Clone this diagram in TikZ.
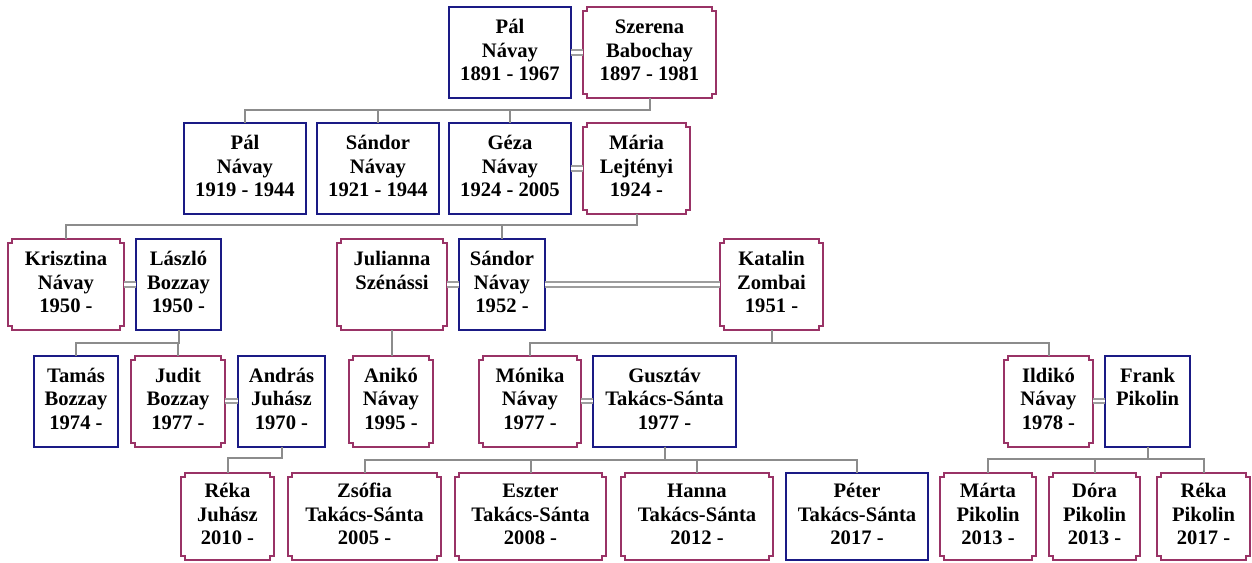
\documentclass[tikz,border=0pt]{standalone}
\usepackage{fontspec}
\setmainfont{Liberation Serif}
\usetikzlibrary{calc}

\definecolor{maleblue}{HTML}{1A1A85}
\definecolor{femrose}{HTML}{993366}
\definecolor{linkgray}{HTML}{8C8C8C}

\newcommand\personfont{\bfseries\fontsize{20.6}{23.5}\selectfont}
% three text lines of equal height (the last may stay empty)
\newcommand\who[3]{\strut#1\\\strut#2\\\strut#3}
% frame with small inward notches at the corners, drawn round a named node
\newcommand\femframe[1]{%
  \draw[femline] ([yshift=-4pt]#1.north west) -| ([xshift=4pt]#1.north west)
    -- ([xshift=-4pt]#1.north east) |- ([yshift=-4pt]#1.north east)
    -- ([yshift=4pt]#1.south east) -| ([xshift=-4pt]#1.south east)
    -- ([xshift=4pt]#1.south west) |- ([yshift=4pt]#1.south west) -- cycle;}

\tikzset{
  person/.style={minimum height=91pt, inner sep=0pt, outer sep=0pt,
                 align=center, font=\personfont, text=black},
  male/.style={person, draw=maleblue, line width=2pt},
  female/.style={person},
  femline/.style={draw=femrose, line width=2pt},
  link/.style={draw=linkgray, line width=2pt},
  wed/.style={draw=linkgray!85, line width=2pt, double=white, double distance=2.2pt},
}

\begin{document}
\begin{tikzpicture}[x=1pt, y=-1pt]
\fill[white] (0,0) rectangle (1252,562);
\useasboundingbox (0,0) rectangle (1252,562);

% generation 1
\node[male,   minimum width=122pt] (palA)    at (510,52.5)   {\who{Pál}{Návay}{1891 - 1967}};
\node[female, minimum width=133pt] (szerena) at (649.5,52.5) {\who{Szerena}{Babochay}{1897 - 1981}};

% generation 2
\node[male,   minimum width=122pt] (palB)    at (245,168.5)   {\who{Pál}{Návay}{1919 - 1944}};
\node[male,   minimum width=122pt] (sandorA) at (378,168.5)   {\who{Sándor}{Návay}{1921 - 1944}};
\node[male,   minimum width=122pt] (geza)    at (510,168.5)   {\who{Géza}{Návay}{1924 - 2005}};
\node[female, minimum width=107pt] (maria)   at (636.5,168.5) {\who{Mária}{Lejtényi}{1924 -}};

% generation 3
\node[female, minimum width=116pt] (krisztina) at (66,284.5)    {\who{Krisztina}{Návay}{1950 -}};
\node[male,   minimum width=85pt]  (laszlo)    at (178.5,284.5) {\who{László}{Bozzay}{1950 -}};
\node[female, minimum width=110pt] (julianna)  at (392,284.5)   {\who{Julianna}{Szénássi}{}};
\node[male,   minimum width=86pt]  (sandorB)   at (502,284.5)   {\who{Sándor}{Návay}{1952 -}};
\node[female, minimum width=103pt] (katalin)   at (771.5,284.5) {\who{Katalin}{Zombai}{1951 -}};

% generation 4
\node[male,   minimum width=84pt]  (tamas)   at (76,401)     {\who{Tamás}{Bozzay}{1974 -}};
\node[female, minimum width=94pt]  (judit)   at (178,401)    {\who{Judit}{Bozzay}{1977 -}};
\node[male,   minimum width=87pt]  (andras)  at (281.5,401)  {\who{András}{Juhász}{1970 -}};
\node[female, minimum width=84pt]  (aniko)   at (391,401)    {\who{Anikó}{Návay}{1995 -}};
\node[female, minimum width=102pt] (monika)  at (530,401)    {\who{Mónika}{Návay}{1977 -}};
\node[male,   minimum width=143pt] (gusztav) at (664.5,401)  {\who{Gusztáv}{Takács-Sánta}{1977 -}};
\node[female, minimum width=89pt]  (ildiko)  at (1048.5,401) {\who{Ildikó}{Návay}{1978 -}};
\node[male,   minimum width=85pt]  (frank)   at (1147.5,401) {\who{Frank}{Pikolin}{}};

% generation 5
\tikzset{person/.append style={minimum height=87pt}}
\node[female, minimum width=93pt]  (rekaJ)  at (227.5,516.5)  {\who{Réka}{Juhász}{2010 -}};
\node[female, minimum width=153pt] (zsofia) at (364.5,516.5)  {\who{Zsófia}{Takács-Sánta}{2005 -}};
\node[female, minimum width=151pt] (eszter) at (530.5,516.5)  {\who{Eszter}{Takács-Sánta}{2008 -}};
\node[female, minimum width=152pt] (hanna)  at (697,516.5)    {\who{Hanna}{Takács-Sánta}{2012 -}};
\node[male,   minimum width=142pt] (peter)  at (857,516.5)    {\who{Péter}{Takács-Sánta}{2017 -}};
\node[female, minimum width=96pt]  (marta)  at (988,516.5)    {\who{Márta}{Pikolin}{2013 -}};
\node[female, minimum width=91pt]  (dora)   at (1094.5,516.5) {\who{Dóra}{Pikolin}{2013 -}};
\node[female, minimum width=93pt]  (rekaP)  at (1203.5,516.5) {\who{Réka}{Pikolin}{2017 -}};

\foreach \f in {szerena,maria,krisztina,julianna,katalin,judit,aniko,monika,ildiko,
                rekaJ,zsofia,eszter,hanna,marta,dora,rekaP}
  {\femframe{\f}}

% marriages
\draw[wed] (palA.east)     -- (szerena.west);
\draw[wed] (geza.east)     -- (maria.west);
\draw[wed] (krisztina.east)-- (laszlo.west);
\draw[wed] (julianna.east) -- (sandorB.west);
\draw[wed] (sandorB.east)  -- (katalin.west);
\draw[wed] (judit.east)    -- (andras.west);
\draw[wed] (monika.east)   -- (gusztav.west);
\draw[wed] (ildiko.east)   -- (frank.west);

% descent lines
\coordinate (b1) at (0,110);
\coordinate (b2) at (0,225);
\coordinate (b3) at (0,343);
\coordinate (b4) at (0,343);
\coordinate (b5) at (0,458);
\coordinate (b6) at (0,460);
\coordinate (b7) at (0,459);
\foreach \c in {palB,sandorA,geza}
  {\draw[link] (szerena.south) -- (szerena.south |- b1) -| (\c.north);}
\foreach \c in {krisztina,sandorB}
  {\draw[link] (maria.south) -- (maria.south |- b2) -| (\c.north);}
\foreach \c in {tamas,judit}
  {\draw[link] (laszlo.south) -- (laszlo.south |- b3) -| (\c.north);}
\draw[link] (julianna.south) -- (julianna.south |- aniko.north);
\foreach \c in {monika,ildiko}
  {\draw[link] (katalin.south) -- (katalin.south |- b4) -| (\c.north);}
\draw[link] (andras.south) -- (andras.south |- b5) -| (rekaJ.north);
\foreach \c in {zsofia,eszter,hanna,peter}
  {\draw[link] (gusztav.south) -- (gusztav.south |- b6) -| (\c.north);}
\foreach \c in {marta,dora,rekaP}
  {\draw[link] (frank.south) -- (frank.south |- b7) -| (\c.north);}
\end{tikzpicture}
\end{document}
